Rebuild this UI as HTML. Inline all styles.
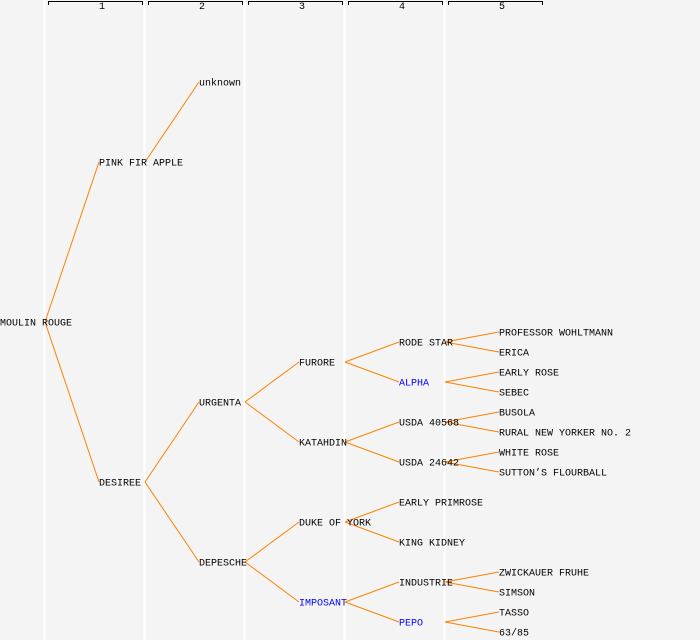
<!DOCTYPE html>
<html><head><meta charset="utf-8"><style>html,body{margin:0;padding:0;background:#f4f4f4}svg{display:block}text{font-family:"Liberation Mono",monospace;font-size:10px;fill:#000;dominant-baseline:central}</style></head><body>
<svg width="700" height="640" viewBox="0 0 700 640">
<rect width="700" height="640" fill="#f4f4f4"/>
<g stroke="#fff" stroke-width="2">
<line x1="44.5" y1="0" x2="44.5" y2="640"/><line x1="144.5" y1="0" x2="144.5" y2="640"/><line x1="244.5" y1="0" x2="244.5" y2="640"/><line x1="344.5" y1="0" x2="344.5" y2="640"/><line x1="444.5" y1="0" x2="444.5" y2="640"/>
</g>
<g stroke="#000" stroke-width="1" fill="none">
<path d="M48.5 5V1.5H142.5V5"/><path d="M148.5 5V1.5H242.5V5"/><path d="M248.5 5V1.5H342.5V5"/><path d="M348.5 5V1.5H442.5V5"/><path d="M448.5 5V1.5H542.5V5"/>
</g>
<g style="font-size:8px" text-anchor="middle">
<text x="102" y="7.5">1</text><text x="202" y="7.5">2</text><text x="302" y="7.5">3</text><text x="402" y="7.5">4</text><text x="502" y="7.5">5</text>
</g>
<g stroke="#ff8000" stroke-width="1" fill="none">
<line x1="45" y1="322" x2="99" y2="162"/><line x1="45" y1="322" x2="99" y2="482"/>
<line x1="145" y1="162" x2="199" y2="82"/>
<line x1="145" y1="482" x2="199" y2="402"/><line x1="145" y1="482" x2="199" y2="562"/>
<line x1="245" y1="402" x2="299" y2="362"/><line x1="245" y1="402" x2="299" y2="442"/>
<line x1="245" y1="562" x2="299" y2="522"/><line x1="245" y1="562" x2="299" y2="602"/>
<line x1="345" y1="362" x2="399" y2="342"/><line x1="345" y1="362" x2="399" y2="382"/>
<line x1="345" y1="442" x2="399" y2="422"/><line x1="345" y1="442" x2="399" y2="462"/>
<line x1="345" y1="522" x2="399" y2="502"/><line x1="345" y1="522" x2="399" y2="542"/>
<line x1="345" y1="602" x2="399" y2="582"/><line x1="345" y1="602" x2="399" y2="622"/>
<line x1="445" y1="342" x2="499" y2="332"/><line x1="445" y1="342" x2="499" y2="352"/>
<line x1="445" y1="382" x2="499" y2="372"/><line x1="445" y1="382" x2="499" y2="392"/>
<line x1="445" y1="422" x2="499" y2="412"/><line x1="445" y1="422" x2="499" y2="432"/>
<line x1="445" y1="462" x2="499" y2="452"/><line x1="445" y1="462" x2="499" y2="472"/>
<line x1="445" y1="582" x2="499" y2="572"/><line x1="445" y1="582" x2="499" y2="592"/>
<line x1="445" y1="622" x2="499" y2="612"/><line x1="445" y1="622" x2="499" y2="632"/>
</g>
<g transform="translate(0,2)">
<text x="0" y="322">MOULIN ROUGE</text>
<text x="99" y="162">PINK FIR APPLE</text>
<text x="99" y="482">DESIREE</text>
<text x="199" y="82">unknown</text>
<text x="199" y="402">URGENTA</text>
<text x="199" y="562">DEPESCHE</text>
<text x="299" y="362">FURORE</text>
<text x="299" y="442">KATAHDIN</text>
<text x="299" y="522">DUKE OF YORK</text>
<text x="299" y="602" style="fill:#0000ff">IMPOSANT</text>
<text x="399" y="342">RODE STAR</text>
<text x="399" y="382" style="fill:#0000ff">ALPHA</text>
<text x="399" y="422">USDA 40568</text>
<text x="399" y="462">USDA 24642</text>
<text x="399" y="502">EARLY PRIMROSE</text>
<text x="399" y="542">KING KIDNEY</text>
<text x="399" y="582">INDUSTRIE</text>
<text x="399" y="622" style="fill:#0000ff">PEPO</text>
<text x="499" y="332">PROFESSOR WOHLTMANN</text>
<text x="499" y="352">ERICA</text>
<text x="499" y="372">EARLY ROSE</text>
<text x="499" y="392">SEBEC</text>
<text x="499" y="412">BUSOLA</text>
<text x="499" y="432">RURAL NEW YORKER NO. 2</text>
<text x="499" y="452">WHITE ROSE</text>
<text x="499" y="472">SUTTON’S FLOURBALL</text>
<text x="499" y="572">ZWICKAUER FRUHE</text>
<text x="499" y="592">SIMSON</text>
<text x="499" y="612">TASSO</text>
<text x="499" y="632">63/85</text>
</g>
</svg>
</body></html>
